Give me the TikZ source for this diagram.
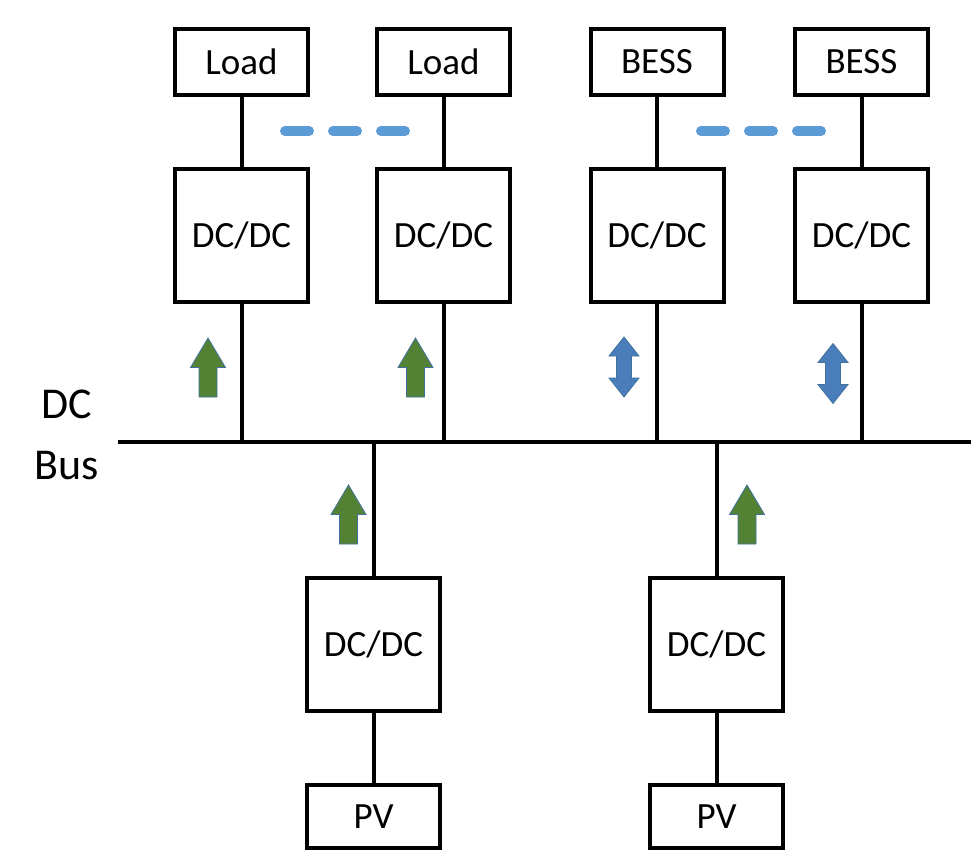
\documentclass[tikz,border=0pt]{standalone}
\usepackage{fontspec}
\setmainfont{Carlito}
\begin{document}
\begin{tikzpicture}[x=1pt,y=-1pt,
  box/.style={draw=black, line width=4pt, fill=white, inner sep=0pt, font=\fontsize{37}{40}\selectfont},
  smallbox/.style={box, minimum width=133pt, minimum height=66pt},
  bigbox/.style={box, minimum width=133pt, minimum height=133pt},
  wire/.style={draw=black, line width=4pt},
  dotline/.style={draw={rgb,255:red,91;green,155;blue,213}, line width=10pt, line cap=round, dash pattern=on 24pt off 24pt},
  lbl/.style={inner sep=0pt, font=\fontsize{44}{48}\selectfont},
  uparr/.pic={\filldraw[fill={rgb,255:red,84;green,130;blue,53}, draw={rgb,255:red,65;green,113;blue,156}, line width=0.8pt, line join=miter]
     (0,-29.5) -- (17.5,0) -- (9,0) -- (9,29.5) -- (-9,29.5) -- (-9,0) -- (-17.5,0) -- cycle;},
  dblarr/.pic={\filldraw[fill={rgb,255:red,74;green,126;blue,187}, draw={rgb,255:red,65;green,113;blue,156}, line width=0.8pt, line join=miter]
     (0,-30) -- (15,-11) -- (7.5,-11) -- (7.5,11) -- (15,11) -- (0,30) -- (-15,11) -- (-7.5,11) -- (-7.5,-11) -- (-15,-11) -- cycle;}
]
\useasboundingbox (0,0) rectangle (971,853);

% DC bus
\coordinate (busL) at (118,442);
\coordinate (busR) at (971,442);
\draw[wire] (busL) -- (busR);
\node[lbl] (dc) at (67,404) {DC};
\node[lbl] (bus) at (67,466) {Bus};

% top row
\node[smallbox] (load1) at (241.5,62) {Load};
\node[smallbox] (load2) at (443.5,62) {Load};
\node[smallbox] (bess1) at (657,62) {BESS};
\node[smallbox] (bess2) at (861.5,62) {BESS};
\node[bigbox] (dct1) at (241.5,235.5) {DC/DC};
\node[bigbox] (dct2) at (443.5,235.5) {DC/DC};
\node[bigbox] (dct3) at (657,235.5) {DC/DC};
\node[bigbox] (dct4) at (861.5,235.5) {DC/DC};

\foreach \a/\b in {load1/dct1, load2/dct2, bess1/dct3, bess2/dct4}{
  \draw[wire] (\a.south) -- (\b.north);
  \draw[wire] (\b.south) -- (\b.south |- busL);
}

% bottom row
\node[bigbox] (dcb1) at (373.5,644.5) {DC/DC};
\node[bigbox] (dcb2) at (716.5,644.5) {DC/DC};
\node[box, minimum width=133pt, minimum height=63pt] (pv1) at (373.5,816.5) {PV};
\node[box, minimum width=133pt, minimum height=63pt] (pv2) at (716.5,816.5) {PV};
\foreach \a/\b in {dcb1/pv1, dcb2/pv2}{
  \draw[wire] (\a.south) -- (\b.north);
  \draw[wire] (\a.north) -- (\a.north |- busL);
}

% dashed ellipsis lines
\coordinate (d1a) at (285,131);
\coordinate (d1b) at (405,131);
\coordinate (d2a) at (701,131);
\coordinate (d2b) at (823,131);
\draw[dotline] (d1a) -- (d1b);
\draw[dotline] (d2a) -- (d2b);

% power flow arrows
\pic at (208,367.5) {uparr};
\pic at (415.5,367.5) {uparr};
\pic at (348.5,514.5) {uparr};
\pic at (747,514.5) {uparr};
\pic at (624,367) {dblarr};
\pic at (833,373.5) {dblarr};
\end{tikzpicture}
\end{document}
